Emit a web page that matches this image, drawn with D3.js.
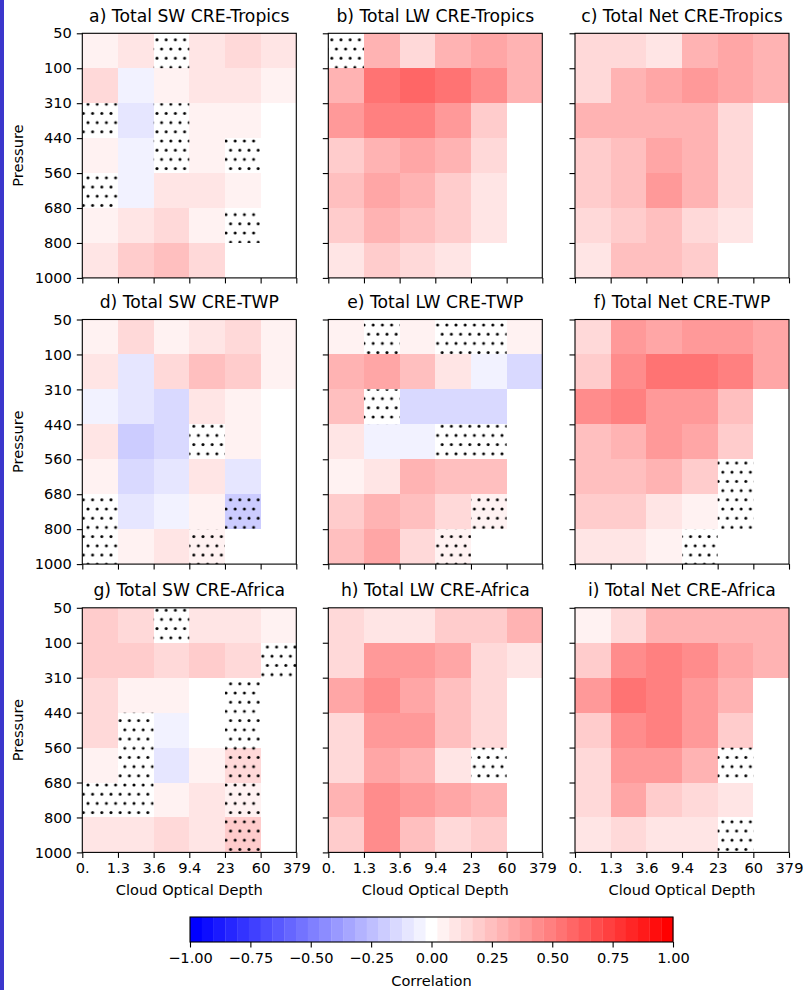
<!DOCTYPE html>
<html>
<head>
<meta charset="utf-8">
<script src="https://cdn.jsdelivr.net/npm/d3@7"></script>
<style>
  body { margin: 0; background: #fff; }
  svg { display: block; font-family: "DejaVu Sans", sans-serif; }
</style>
</head>
<body>
<svg id="fig" width="803" height="990"></svg>
<script>
// bin edges on each axis
const tauLabels = ["0.", "1.3", "3.6", "9.4", "23", "60", "379"];
const presLabels = ["50", "100", "310", "440", "560", "680", "800", "1000"];

const titles = [
  "a) Total SW CRE-Tropics", "b) Total LW CRE-Tropics", "c) Total Net CRE-Tropics",
  "d) Total SW CRE-TWP", "e) Total LW CRE-TWP", "f) Total Net CRE-TWP",
  "g) Total SW CRE-Africa", "h) Total LW CRE-Africa", "i) Total Net CRE-Africa"
];

// correlation per cell, rows from 50-100 hPa down to 800-1000 hPa, null = no data
const swTropics = [
  [0.05, 0.10, 0.00, 0.10, 0.15, 0.10],
  [0.17, -0.05, 0.05, 0.10, 0.10, 0.05],
  [0.00, -0.10, 0.00, 0.05, 0.05, null],
  [0.05, -0.05, 0.00, 0.05, 0.00, null],
  [0.00, -0.05, 0.10, 0.10, 0.05, null],
  [0.05, 0.10, 0.15, 0.05, 0.00, null],
  [0.12, 0.20, 0.25, 0.15, null, null]
];
const lwTropics = [
  [0.00, 0.30, 0.15, 0.30, 0.35, 0.30],
  [0.30, 0.55, 0.58, 0.55, 0.45, 0.30],
  [0.40, 0.50, 0.50, 0.40, 0.20, null],
  [0.20, 0.30, 0.35, 0.30, 0.15, null],
  [0.25, 0.35, 0.30, 0.20, 0.10, null],
  [0.20, 0.30, 0.25, 0.20, 0.10, null],
  [0.10, 0.20, 0.15, 0.10, null, null]
];
const netTropics = [
  [0.15, 0.15, 0.10, 0.30, 0.33, 0.27],
  [0.15, 0.30, 0.35, 0.40, 0.35, 0.27],
  [0.30, 0.30, 0.30, 0.30, 0.15, null],
  [0.20, 0.25, 0.35, 0.30, 0.15, null],
  [0.20, 0.25, 0.40, 0.30, 0.15, null],
  [0.15, 0.20, 0.25, 0.15, 0.10, null],
  [0.10, 0.22, 0.25, 0.20, null, null]
];
const swTWP = [
  [0.05, 0.15, 0.05, 0.10, 0.15, 0.05],
  [0.10, -0.10, 0.15, 0.25, 0.20, 0.05],
  [-0.05, -0.10, -0.15, 0.10, 0.05, null],
  [0.10, -0.20, -0.15, 0.00, 0.05, null],
  [0.05, -0.15, -0.10, 0.10, -0.10, null],
  [0.00, -0.10, -0.05, 0.05, -0.18, null],
  [0.00, 0.05, 0.10, 0.05, null, null]
];
const lwTWP = [
  [0.05, 0.00, 0.05, 0.00, 0.00, 0.05],
  [0.30, 0.35, 0.25, 0.10, -0.05, -0.15],
  [0.25, 0.00, -0.15, -0.15, -0.15, null],
  [0.10, -0.05, -0.05, 0.00, 0.00, null],
  [0.05, 0.10, 0.30, 0.25, 0.25, null],
  [0.20, 0.30, 0.25, 0.15, 0.05, null],
  [0.25, 0.35, 0.15, 0.05, null, null]
];
const netTWP = [
  [0.15, 0.40, 0.35, 0.40, 0.40, 0.35],
  [0.20, 0.45, 0.55, 0.55, 0.50, 0.35],
  [0.45, 0.50, 0.40, 0.40, 0.25, null],
  [0.25, 0.30, 0.40, 0.35, 0.20, null],
  [0.25, 0.25, 0.30, 0.20, 0.00, null],
  [0.20, 0.20, 0.10, 0.05, 0.00, null],
  [0.10, 0.10, 0.05, 0.00, null, null]
];
const swAfrica = [
  [0.20, 0.15, 0.00, 0.10, 0.10, 0.05],
  [0.20, 0.20, 0.15, 0.20, 0.15, 0.00],
  [0.15, 0.05, 0.05, 0.01, 0.00, null],
  [0.15, 0.00, -0.05, 0.01, 0.00, null],
  [0.05, 0.00, -0.10, 0.05, 0.15, null],
  [0.00, 0.00, 0.05, 0.10, 0.05, null],
  [0.10, 0.10, 0.15, 0.10, 0.20, null]
];
const lwAfrica = [
  [0.15, 0.10, 0.10, 0.20, 0.20, 0.30],
  [0.15, 0.40, 0.40, 0.35, 0.15, 0.10],
  [0.35, 0.45, 0.35, 0.25, 0.15, null],
  [0.15, 0.40, 0.40, 0.25, 0.15, null],
  [0.15, 0.35, 0.30, 0.10, 0.00, null],
  [0.30, 0.45, 0.40, 0.35, 0.30, null],
  [0.20, 0.45, 0.25, 0.15, 0.20, null]
];
const netAfrica = [
  [0.05, 0.15, 0.30, 0.30, 0.30, 0.30],
  [0.20, 0.45, 0.50, 0.45, 0.35, 0.30],
  [0.40, 0.55, 0.50, 0.40, 0.30, null],
  [0.20, 0.45, 0.50, 0.40, 0.20, null],
  [0.15, 0.40, 0.40, 0.30, 0.00, null],
  [0.15, 0.35, 0.20, 0.15, 0.10, null],
  [0.10, 0.15, 0.10, 0.10, 0.00, null]
];
const panelData = [swTropics, lwTropics, netTropics, swTWP, lwTWP, netTWP, swAfrica, lwAfrica, netAfrica];

// cells marked with dots, [row, col]
const hatchCells = [
  [[0,2],[2,0],[2,2],[3,2],[3,4],[4,0],[5,4]],
  [[0,0]],
  [],
  [[3,3],[5,0],[5,4],[6,0],[6,3]],
  [[0,1],[0,3],[0,4],[2,1],[3,3],[3,4],[5,4],[6,3]],
  [[4,4],[5,4],[6,3]],
  [[0,2],[1,5],[2,4],[3,1],[3,4],[4,1],[4,4],[5,0],[5,1],[5,4],[6,4]],
  [[4,4]],
  [[4,4],[6,4]]
];

const cbTicks = [-1, -0.75, -0.5, -0.25, 0, 0.25, 0.5, 0.75, 1];

// bwr colormap cut into 41 levels
function bwr41(v) {
  let i = Math.floor((v + 1) / 2 * 41);
  i = Math.max(0, Math.min(40, i));
  const t = i / 40;
  let r, g, b;
  if (t < 0.5) { r = 2 * t; g = 2 * t; b = 1; }
  else { r = 1; g = 2 * (1 - t); b = 2 * (1 - t); }
  return d3.rgb(r * 255, g * 255, b * 255).toString();
}

const svg = d3.select("#fig");
const colX = [82.3, 328.3, 575];
const rowY = [33.3, 319.5, 607.8];
const pw = 214, ph = 244.6;
const tickFont = "14.6px", titleFont = "17.2px";

svg.append("rect").attr("x", 0).attr("y", 0).attr("width", 4).attr("height", 990).attr("fill", "#3b36cc");

// dot hatching, anchored to the page
const defs = svg.append("defs");
const sp = 9.2;
const pat = defs.append("pattern")
  .attr("id", "dots")
  .attr("patternUnits", "userSpaceOnUse")
  .attr("width", sp).attr("height", sp * 2)
  .attr("patternTransform", "translate(5.2,12.2)");
[[0,0],[sp,0],[0,2*sp],[sp,2*sp],[sp/2,sp]].forEach(p => {
  pat.append("circle").attr("cx", p[0]).attr("cy", p[1]).attr("r", 1.5).attr("fill", "#000");
});

panelData.forEach((grid, idx) => {
  const r = Math.floor(idx / 3), c = idx % 3;
  const x0 = colX[c], y0 = rowY[r];
  const x = d3.scaleLinear().domain([0, 6]).range([x0, x0 + pw]);
  const y = d3.scaleLinear().domain([0, 7]).range([y0, y0 + ph]);
  const g = svg.append("g");

  const cells = [];
  grid.forEach((row, i) => row.forEach((v, j) => { if (v !== null) cells.push({ i, j, v }); }));

  g.selectAll("rect.cell").data(cells).join("rect")
    .attr("class", "cell")
    .attr("x", d => x(d.j)).attr("y", d => y(d.i))
    .attr("width", d => x(d.j + 1) - x(d.j))
    .attr("height", d => y(d.i + 1) - y(d.i))
    .attr("fill", d => bwr41(d.v))
    .attr("shape-rendering", "crispEdges");

  g.selectAll("rect.hatch").data(hatchCells[idx]).join("rect")
    .attr("class", "hatch")
    .attr("x", d => x(d[1])).attr("y", d => y(d[0]))
    .attr("width", d => x(d[1] + 1) - x(d[1]))
    .attr("height", d => y(d[0] + 1) - y(d[0]))
    .attr("fill", "url(#dots)");

  // axes
  const xAxis = d3.axisBottom(x).tickValues(d3.range(7))
    .tickFormat(r === 2 ? (d => tauLabels[d]) : () => "")
    .tickSize(5.5).tickPadding(5);
  const yAxis = d3.axisLeft(y).tickValues(d3.range(8))
    .tickFormat(c === 0 ? (d => presLabels[d]) : () => "")
    .tickSize(5.5).tickPadding(5);

  const gx = g.append("g").attr("transform", `translate(0,${y0 + ph})`).call(xAxis);
  const gy = g.append("g").attr("transform", `translate(${x0},0)`).call(yAxis);
  [gx, gy].forEach(a => {
    a.select(".domain").remove();
    a.selectAll("line").attr("stroke", "#000").attr("stroke-width", 1.1);
    a.selectAll("text").attr("fill", "#000").style("font-size", tickFont).style("font-family", "DejaVu Sans");
  });

  g.append("rect")
    .attr("x", x0).attr("y", y0).attr("width", pw).attr("height", ph)
    .attr("fill", "none").attr("stroke", "#000").attr("stroke-width", 1.1);

  g.append("text")
    .attr("x", x0 + pw / 2).attr("y", y0 - 11.5)
    .attr("text-anchor", "middle")
    .style("font-size", titleFont)
    .attr("fill", "#000")
    .text(titles[idx]);

  if (c === 0) {
    g.append("text")
      .attr("transform", `translate(17.5,${y0 + ph / 2}) rotate(-90)`)
      .attr("text-anchor", "middle")
      .attr("dy", "0.35em")
      .style("font-size", tickFont)
      .text("Pressure");
  }
  if (r === 2) {
    g.append("text")
      .attr("x", x0 + pw / 2).attr("y", 895)
      .attr("text-anchor", "middle")
      .style("font-size", tickFont)
      .text("Cloud Optical Depth");
  }
});

// colorbar
const cbX0 = 190, cbX1 = 673, cbY = 917, cbH = 25;
const cx = d3.scaleLinear().domain([-1, 1]).range([cbX0, cbX1]);
const levels = d3.range(41);
const cb = svg.append("g");
cb.selectAll("rect").data(levels).join("rect")
  .attr("x", i => cx(-1 + i * 2 / 41))
  .attr("y", cbY)
  .attr("width", cx(-1 + 2 / 41) - cx(-1) + 0.3)
  .attr("height", cbH)
  .attr("fill", i => bwr41(-1 + (i + 0.5) * 2 / 41));
cb.append("rect").attr("x", cbX0).attr("y", cbY).attr("width", cbX1 - cbX0).attr("height", cbH)
  .attr("fill", "none").attr("stroke", "#000").attr("stroke-width", 1.1);
const cbAxis = cb.append("g").attr("transform", `translate(0,${cbY + cbH})`)
  .call(d3.axisBottom(cx).tickValues(cbTicks).tickFormat(d3.format(".2f")).tickSize(5.5).tickPadding(5));
cbAxis.select(".domain").remove();
cbAxis.selectAll("line").attr("stroke", "#000").attr("stroke-width", 1.1);
cbAxis.selectAll("text").attr("fill", "#000").style("font-size", tickFont).style("font-family", "DejaVu Sans");
cb.append("text")
  .attr("x", (cbX0 + cbX1) / 2).attr("y", 986)
  .attr("text-anchor", "middle")
  .style("font-size", tickFont)
  .text("Correlation");
</script>
</body>
</html>
